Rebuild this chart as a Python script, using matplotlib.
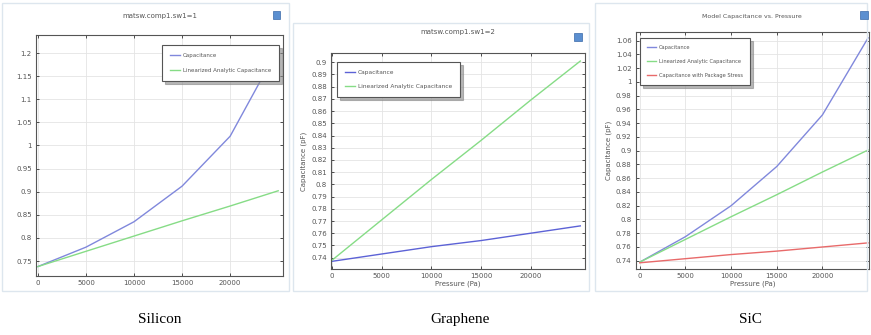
import matplotlib.pyplot as plt
from matplotlib.patches import Rectangle

pressure = [0, 5000, 10000, 15000, 20000, 25000]

# Silicon
si_cap = [0.738, 0.780, 0.835, 0.912, 1.020, 1.210]
si_lin = [0.738, 0.771, 0.804, 0.837, 0.869, 0.902]

# Graphene
gr_cap = [0.737, 0.743, 0.749, 0.754, 0.760, 0.766]
gr_lin = [0.738, 0.771, 0.804, 0.836, 0.869, 0.901]

# SiC
sic_cap = [0.738, 0.775, 0.820, 0.877, 0.952, 1.064]
sic_lin = [0.738, 0.771, 0.804, 0.836, 0.869, 0.901]
sic_pkg = [0.737, 0.743, 0.749, 0.754, 0.760, 0.766]

si_yticks = [0.75, 0.8, 0.85, 0.9, 0.95, 1, 1.05, 1.1, 1.15, 1.2]
gr_yticks = [round(0.74 + 0.01 * i, 2) for i in range(17)]
sic_yticks = [round(0.74 + 0.02 * i, 2) for i in range(17)]
xticks = [0, 5000, 10000, 15000, 20000]

BLUE = '#8088dc'
BLUE2 = '#5c62d6'
GREEN = '#86dc86'
RED = '#e86a6a'
TXT = '#555555'

fig = plt.figure(figsize=(8.71, 3.35), dpi=100)

# panel frames
for x0, y0, w, h in [(0.002, 0.13, 0.33, 0.86), (0.336, 0.13, 0.34, 0.80), (0.683, 0.13, 0.312, 0.86)]:
    fig.patches.append(Rectangle((x0, y0), w, h, transform=fig.transFigure,
                                 fill=False, edgecolor='#dde6ee', linewidth=1.0))


def style(ax, yticks, xlim, ylim):
    ax.set_xlim(*xlim)
    ax.set_ylim(*ylim)
    ax.set_xticks(xticks)
    ax.set_yticks(yticks)
    ax.set_yticklabels(['%g' % v for v in yticks])
    ax.tick_params(direction='in', top=True, right=True, labelsize=5, colors='#333333',
                   labelcolor=TXT, length=2.5, width=0.6, pad=3)
    ax.grid(True, color='#e4e4e4', linewidth=0.6)
    for s in ax.spines.values():
        s.set_color('#555555')
        s.set_linewidth(0.8)


def legend(ax, loc, anchor, fs, pad, spacing):
    leg = ax.legend(loc=loc, bbox_to_anchor=anchor, fontsize=fs, frameon=True, fancybox=False,
                    shadow={'color': '#888888', 'alpha': 0.6}, handlelength=1.8,
                    handletextpad=0.5, borderpad=pad, labelspacing=spacing, borderaxespad=0)
    leg.get_frame().set_edgecolor('#555555')
    leg.get_frame().set_linewidth(0.8)
    for t in leg.get_texts():
        t.set_color(TXT)


# Silicon
ax1 = fig.add_axes([0.0413, 0.176, 0.2836, 0.7194])
ax1.plot(pressure, si_cap, color=BLUE, lw=1.0, label='Capacitance')
ax1.plot(pressure, si_lin, color=GREEN, lw=1.0, label='Linearized Analytic Capacitance')
style(ax1, si_yticks, (-200, 25500), (0.7175, 1.239))
ax1.set_title('matsw.comp1.sw1=1', fontsize=5, color=TXT, pad=12)
legend(ax1, 'upper right', (0.984, 0.958), 4.0, 1.45, 1.8)

# Graphene
ax2 = fig.add_axes([0.380, 0.197, 0.2916, 0.6448])
ax2.plot(pressure, gr_cap, color=BLUE2, lw=1.0, label='Capacitance')
ax2.plot(pressure, gr_lin, color=GREEN, lw=1.0, label='Linearized Analytic Capacitance')
style(ax2, gr_yticks, (-120, 25470), (0.7307, 0.9076))
ax2.set_title('matsw.comp1.sw1=2', fontsize=5, color=TXT, pad=14)
ax2.set_xlabel('Pressure (Pa)', fontsize=5, color=TXT, labelpad=1)
ax2.set_ylabel('Capacitance (pF)', fontsize=5, color=TXT, labelpad=3)
legend(ax2, 'upper left', (0.024, 0.958), 4.2, 1.3, 1.6)

# SiC
ax3 = fig.add_axes([0.7298, 0.197, 0.2679, 0.7084])
ax3.plot(pressure, sic_cap, color=BLUE, lw=1.0, label='Capacitance')
ax3.plot(pressure, sic_lin, color=GREEN, lw=1.0, label='Linearized Analytic Capacitance')
ax3.plot(pressure, sic_pkg, color=RED, lw=1.0, label='Capacitance with Package Stress')
style(ax3, sic_yticks, (-450, 25100), (0.728, 1.073))
ax3.set_title('Model Capacitance vs. Pressure', fontsize=4.5, color=TXT, pad=10)
ax3.set_xlabel('Pressure (Pa)', fontsize=5, color=TXT, labelpad=1)
ax3.set_ylabel('Capacitance (pF)', fontsize=5, color=TXT, labelpad=3)
legend(ax3, 'upper left', (0.018, 0.973), 3.7, 1.4, 1.75)

# small window icons
for x, y in [(0.318, 0.955), (0.664, 0.89), (0.992, 0.955)]:
    fig.patches.append(Rectangle((x - 0.005, y - 0.012), 0.009, 0.024, transform=fig.transFigure,
                                 facecolor='#5b8fd0', edgecolor='#3a6aa8', linewidth=0.5))

# captions
for x, name in [(0.183, 'Silicon'), (0.528, 'Graphene'), (0.862, 'SiC')]:
    fig.text(x, 0.045, name, ha='center', va='center', fontsize=11,
             family='Liberation Serif', color='black')

fig.savefig('out.png', dpi=100)
